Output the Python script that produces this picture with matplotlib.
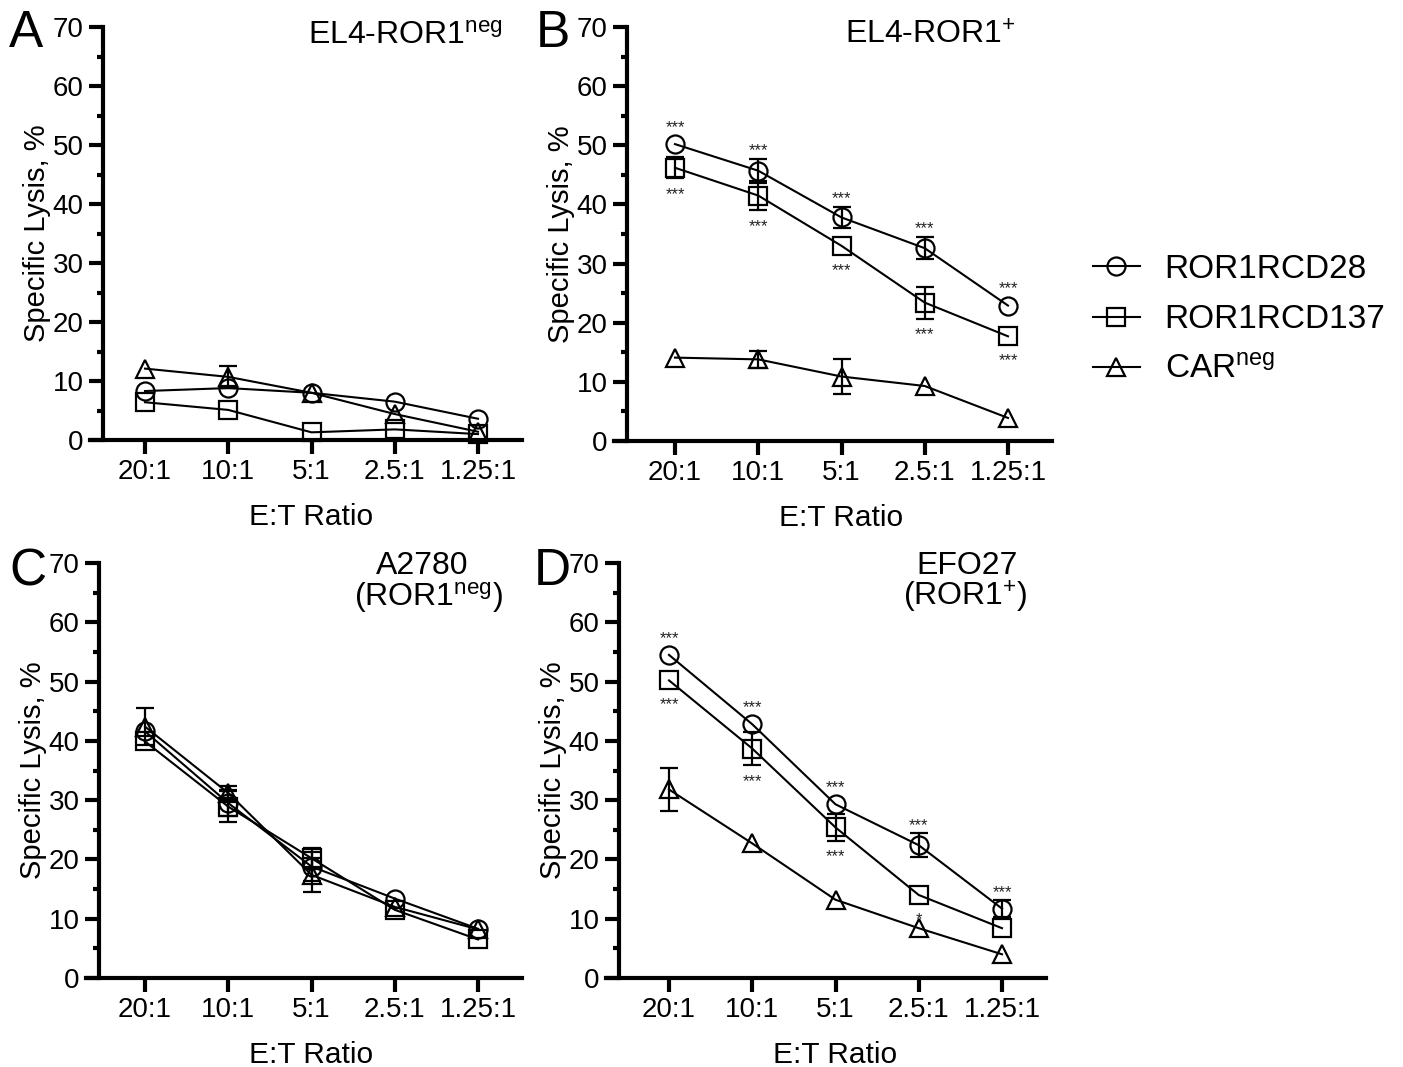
import matplotlib
matplotlib.use('Agg')
import matplotlib.pyplot as plt
from matplotlib.ticker import MultipleLocator
import numpy as np

plt.rcParams['font.family'] = ['Liberation Sans', 'DejaVu Sans']
plt.rcParams['mathtext.fontset'] = 'custom'
plt.rcParams['mathtext.rm'] = 'Liberation Sans'
plt.rcParams['mathtext.it'] = 'Liberation Sans:italic'
plt.rcParams['mathtext.bf'] = 'Liberation Sans:bold'

W, H = 1403, 1067

# Datos
ratios = ['20:1', '10:1', '5:1', '2.5:1', '1.25:1']
nombres = ['ROR1RCD28', 'ROR1RCD137', r'CAR$^{\mathrm{neg}}$']
marcadores = ['o', 's', '^']

# Panel A: EL4-ROR1neg
a_cd28 = [8.3, 8.8, 8.0, 6.5, 3.6]
a_cd137 = [6.4, 5.1, 1.3, 1.8, 1.0]
a_carneg = [12.1, 10.7, 8.0, 4.4, 1.4]
a_err_cd28 = [0, 0, 0, 0, 0]
a_err_cd137 = [0, 0, 0, 0, 0]
a_err_carneg = [0, 1.9, 0, 0, 0]

# Panel B: EL4-ROR1+
b_cd28 = [50.2, 45.7, 37.8, 32.6, 22.9]
b_cd137 = [46.2, 41.5, 33.0, 23.4, 17.7]
b_carneg = [14.1, 13.8, 10.9, 9.3, 3.9]
b_err_cd28 = [0, 2.0, 1.8, 1.9, 0]
b_err_cd137 = [1.8, 2.5, 0, 2.7, 0]
b_err_carneg = [0, 1.5, 2.9, 0, 0]
b_sig_cd28 = ['***', '***', '***', '***', '***']
b_sig_cd137 = ['***', '***', '***', '***', '***']

# Panel C: A2780 (ROR1neg)
c_cd28 = [41.6, 29.5, 18.8, 13.4, 8.3]
c_cd137 = [39.9, 28.9, 20.2, 11.5, 6.5]
c_carneg = [42.4, 31.2, 17.4, 12.0, 8.2]
c_err_cd28 = [0, 2.2, 2.5, 0, 0]
c_err_cd137 = [0, 2.6, 1.8, 0, 0]
c_err_carneg = [3.1, 1.2, 2.9, 0, 0]

# Panel D: EFO27 (ROR1+)
d_cd28 = [54.5, 42.8, 29.3, 22.4, 11.7]
d_cd137 = [50.2, 38.7, 25.4, 14.0, 8.4]
d_carneg = [31.8, 22.7, 13.2, 8.4, 4.0]
d_err_cd28 = [0, 0, 0, 2.0, 1.4]
d_err_cd137 = [0, 2.8, 2.3, 0, 0]
d_err_carneg = [3.6, 0, 0, 0, 0]
d_sig_cd28 = ['***', '***', '***', '***', '***']
d_sig_cd137 = ['***', '***', '***', '*', '']

fig = plt.figure(figsize=(W / 100, H / 100), dpi=100)

PASO = 83.25  # px entre categorías


def panel(eje_y, primero, derecha, cero, tope):
    """Crea un panel con el estilo de GraphPad a partir de posiciones en px."""
    xl = eje_y - 13
    ax = fig.add_axes([xl / W, 1 - cero / H, (derecha - xl) / W, (cero - tope) / H])
    izq = (xl - primero) / PASO
    der = (derecha - primero) / PASO
    ax.set_xlim(izq, der)
    ax.set_ylim(0, 70)
    for s in ['top', 'right']:
        ax.spines[s].set_visible(False)
    ax.spines['left'].set_position(('data', (eje_y - primero) / PASO))
    ax.spines['left'].set_bounds(0, 70)
    ax.spines['left'].set_linewidth(3)
    ax.spines['bottom'].set_linewidth(3)
    ax.set_xticks(range(len(ratios)))
    ax.set_xticklabels(ratios)
    ax.yaxis.set_major_locator(MultipleLocator(10))
    ax.yaxis.set_minor_locator(MultipleLocator(5))
    ax.tick_params(axis='both', which='major', direction='out', length=10,
                   width=3, labelsize=20, pad=4)
    ax.tick_params(axis='y', which='minor', direction='out', length=4, width=3)
    ax.set_xlabel('E:T Ratio', fontsize=21.5)
    ax.set_ylabel('Specific Lysis, %', fontsize=21)
    ancho = derecha - xl
    ax.xaxis.set_label_coords((primero + 2 * PASO - xl) / ancho, -(503 - 440) / (cero - tope))
    ax.yaxis.set_label_coords((eje_y - 52 - xl) / ancho, 0.5)
    ax.px_unidad = (cero - tope) / 70.0
    return ax


def series(ax, valores, errores):
    x = np.arange(len(ratios))
    lineas = []
    for v, e, mk, nom in zip(valores, errores, marcadores, nombres):
        v = np.array(v, dtype=float)
        e = np.array(e, dtype=float)
        m = e > 0
        if m.any():
            ax.errorbar(x[m], v[m], yerr=e[m], fmt='none', ecolor='black',
                        elinewidth=1.6, capsize=6.5, capthick=1.6, clip_on=False)
        l, = ax.plot(x, v, color='black', lw=1.5, marker=mk, ms=13, mfc='none',
                     mec='black', mew=1.6, clip_on=False, label=nom)
        lineas.append(l)
    return lineas


def estrellas(ax, valores, errores, signos, arriba):
    for i, (v, e, s) in enumerate(zip(valores, errores, signos)):
        if not s:
            continue
        d = max(e * ax.px_unidad, 8.5) + 12
        if arriba:
            off = d - 8.5
        else:
            off = -d - 8.5
        ax.annotate(s, (i, v), xytext=(0, off * 0.72), textcoords='offset points',
                    ha='center', va='baseline', fontsize=12, color='#222222')


# Panel A
axA = panel(103, 145, 522, 440, 27)
series(axA, [a_cd28, a_cd137, a_carneg], [a_err_cd28, a_err_cd137, a_err_carneg])

# Panel B
axB = panel(627, 675, 1052, 441, 27)
handles = series(axB, [b_cd28, b_cd137, b_carneg], [b_err_cd28, b_err_cd137, b_err_carneg])
estrellas(axB, b_cd28, b_err_cd28, b_sig_cd28, True)
estrellas(axB, b_cd137, b_err_cd137, b_sig_cd137, False)

# Panel C
axC = panel(99, 145, 522, 978, 563)
series(axC, [c_cd28, c_cd137, c_carneg], [c_err_cd28, c_err_cd137, c_err_carneg])

# Panel D
axD = panel(619, 669, 1046, 978, 563)
series(axD, [d_cd28, d_cd137, d_carneg], [d_err_cd28, d_err_cd137, d_err_carneg])
estrellas(axD, d_cd28, d_err_cd28, d_sig_cd28, True)
estrellas(axD, d_cd137, d_err_cd137, d_sig_cd137, False)

# Letras de panel
for letra, px, py in [('A', 9, 47), ('B', 536, 47), ('C', 9, 585), ('D', 534, 585)]:
    fig.text(px / W, 1 - py / H, letra, fontsize=37, ha='left', va='baseline')

# Títulos
fig.text(503 / W, 1 - 44 / H, r'EL4-ROR1$^{\mathrm{neg}}$', fontsize=23, ha='right', va='baseline')
fig.text(1016 / W, 1 - 44 / H, r'EL4-ROR1$^{+}$', fontsize=23, ha='right', va='baseline')
fig.text(422 / W, 1 - 574 / H, 'A2780', fontsize=23, ha='center', va='baseline')
fig.text(428 / W, 1 - 606 / H, r'(ROR1$^{\mathrm{neg}}$)', fontsize=23, ha='center', va='baseline')
fig.text(967 / W, 1 - 574 / H, 'EFO27', fontsize=23, ha='center', va='baseline')
fig.text(965 / W, 1 - 606 / H, r'(ROR1$^{+}$)', fontsize=23, ha='center', va='baseline')

# Leyenda
fig.legend(handles, nombres, loc='upper left', bbox_to_anchor=(1093 / W, 1 - 254 / H),
           frameon=False, fontsize=24, handlelength=1.4, handletextpad=0.75,
           labelspacing=0.58, borderpad=0, borderaxespad=0)

fig.savefig('out.png', dpi=100)
